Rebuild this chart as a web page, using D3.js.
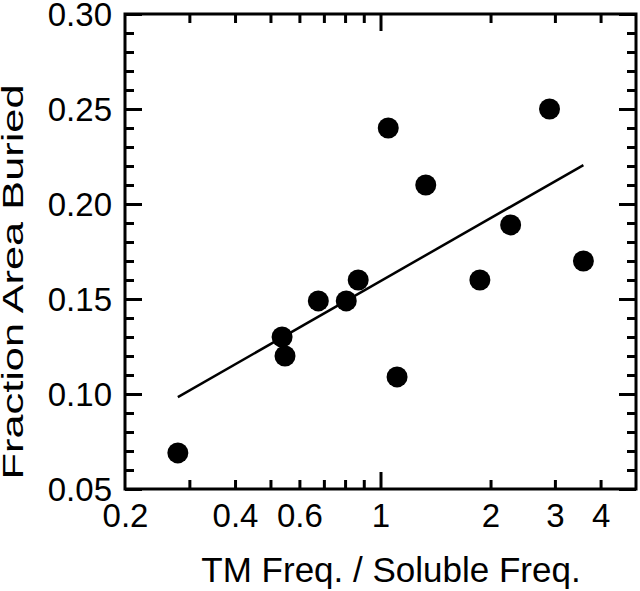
<!DOCTYPE html>
<html>
<head>
<meta charset="utf-8">
<script src="https://cdn.jsdelivr.net/npm/d3@7"></script>
<style>
  body { margin: 0; background: #fff; }
  text { font-family: "Liberation Sans", Arial, sans-serif; fill: #000; }
</style>
</head>
<body>
<svg></svg>
<script>
// data: TM/soluble freq ratio vs fraction of area buried
var ratio  = [0.279, 0.538, 0.548, 0.676, 0.806, 0.869, 1.05, 1.11, 1.33, 1.87, 2.27, 2.90, 3.59];
var buried = [0.069, 0.130, 0.120, 0.149, 0.149, 0.160, 0.240, 0.109, 0.210, 0.160, 0.189, 0.250, 0.170];

// fitted line end points (as drawn)
var fitX = [0.279, 3.59];
var fitY = [0.0984, 0.2205];

// ticks
var xLabels = [0.2, 0.4, 0.6, 1, 2, 3, 4];
var xMajor = [1];
var xMinor = [0.3, 0.4, 0.5, 0.6, 0.7, 0.8, 0.9, 2, 3, 4];
var yMajor = [0.05, 0.10, 0.15, 0.20, 0.25, 0.30];
var yMinor = [0.06, 0.07, 0.08, 0.09, 0.11, 0.12, 0.13, 0.14, 0.16, 0.17, 0.18, 0.19,
              0.21, 0.22, 0.23, 0.24, 0.26, 0.27, 0.28, 0.29];

var width = 640,
	height = 591,
	plotL = 125, plotR = 636, plotT = 14, plotB = 489;

var svg = d3.select('svg')
	.attr('width', width)
	.attr('height', height);

var xScale = d3.scaleLog()
	.domain([0.2, 5])
	.range([plotL, plotR]);

var yScale = d3.scaleLinear()
	.domain([0.05, 0.30])
	.range([plotB, plotT]);

var major = 17, minor = 9;

function tickAxis(axis, vals, size) {
	return axis.tickValues(vals).tickSize(-size).tickFormat('');
}

function styleAxis(g) {
	g.select('.domain').remove();
	g.selectAll('.tick line').attr('stroke', '#000').attr('stroke-width', 3);
}

// bottom / top ticks (pointing in)
[[d3.axisBottom, plotB], [d3.axisTop, plotT]].forEach(function (a) {
	svg.append('g').attr('transform', 'translate(0,' + a[1] + ')')
		.call(tickAxis(a[0](xScale), xMajor, major)).call(styleAxis);
	svg.append('g').attr('transform', 'translate(0,' + a[1] + ')')
		.call(tickAxis(a[0](xScale), xMinor, minor)).call(styleAxis);
});

// left / right ticks
[[d3.axisLeft, plotL], [d3.axisRight, plotR]].forEach(function (a) {
	svg.append('g').attr('transform', 'translate(' + a[1] + ',0)')
		.call(tickAxis(a[0](yScale), yMajor, major)).call(styleAxis);
	svg.append('g').attr('transform', 'translate(' + a[1] + ',0)')
		.call(tickAxis(a[0](yScale), yMinor, minor)).call(styleAxis);
});

// tick labels
var xl = svg.append('g')
	.attr('transform', 'translate(0,' + plotB + ')')
	.call(d3.axisBottom(xScale).tickValues(xLabels).tickSize(0).tickFormat(d => String(d)));
xl.select('.domain').remove();
xl.selectAll('text').attr('y', 38).attr('dy', null).style('font-size', '33px');

var yl = svg.append('g')
	.attr('transform', 'translate(' + plotL + ',0)')
	.call(d3.axisLeft(yScale).tickValues(yMajor).tickSize(0).tickPadding(13).tickFormat(d3.format('.2f')));
yl.select('.domain').remove();
yl.selectAll('text').attr('dy', '0.36em').style('font-size', '33px');
svg.selectAll('.tick text').style('font-family', '"Liberation Sans", Arial, sans-serif');

// frame
svg.append('rect')
	.attr('x', plotL).attr('y', plotT)
	.attr('width', plotR - plotL).attr('height', plotB - plotT)
	.attr('fill', 'none').attr('stroke', '#000').attr('stroke-width', 3);

// fit line
svg.append('path')
	.datum(fitX.map((d, i) => [d, fitY[i]]))
	.attr('d', d3.line().x(d => xScale(d[0])).y(d => yScale(d[1])))
	.attr('fill', 'none')
	.attr('stroke', '#000')
	.attr('stroke-width', 2.5);

// points
svg.selectAll('circle')
	.data(ratio)
	.enter()
	.append('circle')
		.attr('cx', d => xScale(d))
		.attr('cy', (d, i) => yScale(buried[i]))
		.attr('r', 10.5)
		.attr('fill', '#000');

// axis titles
svg.append('text')
	.attr('x', 391)
	.attr('y', 582)
	.style('text-anchor', 'middle')
	.style('font-size', '35px')
	.text('TM Freq. / Soluble Freq.');

svg.append('text')
	.attr('transform', 'translate(23,282) rotate(-90)')
	.attr('text-anchor', 'middle')
	.attr('textLength', 395)
	.attr('lengthAdjust', 'spacingAndGlyphs')
	.style('font-size', '29px')
	.text('Fraction Area Buried');
</script>
</body>
</html>
